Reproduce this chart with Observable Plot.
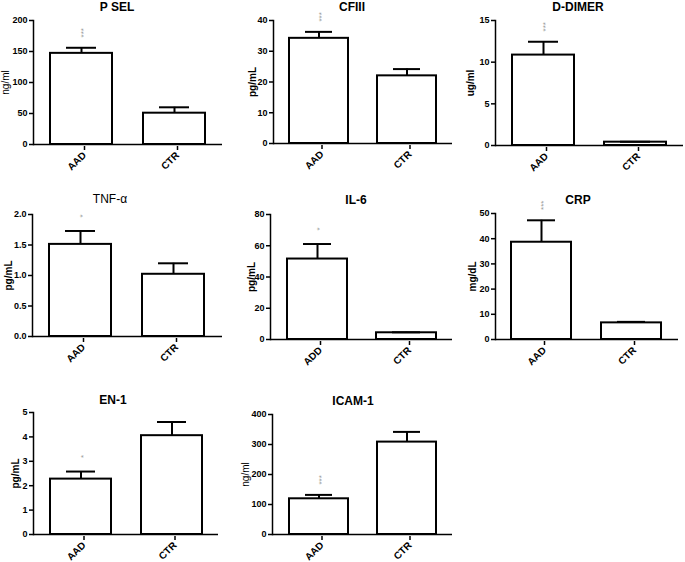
<!DOCTYPE html>
<html><head><meta charset="utf-8">
<script src="https://cdn.jsdelivr.net/npm/d3@7"></script>
<script src="https://cdn.jsdelivr.net/npm/@observablehq/plot@0.6"></script>
<style>
html,body{margin:0;padding:0;background:#fff;}
#root{position:relative;width:685px;height:562px;overflow:hidden;font-family:"Liberation Sans",Arial,sans-serif;background:#fff;}
.ttl{position:absolute;transform:translate(-50%,-50%);font-size:12px;font-weight:bold;white-space:nowrap;color:#000;line-height:1;}
#root svg{position:absolute;}
</style></head><body><div id="root"></div>
<script>
// ---- data ----
const groupsA = ["AAD", "CTR"];
const groupsIL6 = ["ADD", "CTR"];

const pselMean = [147, 50.5];   const pselSem = [9, 9.5];     const pselSig = ["***", ""];
const cfiiiMean = [34.2, 22.0]; const cfiiiSem = [2.1, 2.2];  const cfiiiSig = ["***", ""];
const ddimerMean = [10.85, 0.4];const ddimerSem = [1.6, 0.05];const ddimerSig = ["***", ""];
const tnfMean = [1.51, 1.02];   const tnfSem = [0.22, 0.18];  const tnfSig = ["*", ""];
const il6Mean = [51.5, 4.3];    const il6Sem = [9.6, 0.3];    const il6Sig = ["*", ""];
const crpMean = [38.6, 6.6];    const crpSem = [8.7, 0.4];    const crpSig = ["***", ""];
const en1Mean = [2.27, 4.05];   const en1Sem = [0.31, 0.56];  const en1Sig = ["*", ""];
const icamMean = [119, 308];    const icamSem = [13, 34];     const icamSig = ["***", ""];

const pselTicks = [0, 50, 100, 150, 200];
const cfiiiTicks = [0, 10, 20, 30, 40];
const ddimerTicks = [0, 5, 10, 15];
const tnfTicks = [0, 0.5, 1.0, 1.5, 2.0];
const il6Ticks = [0, 20, 40, 60, 80];
const crpTicks = [0, 10, 20, 30, 40, 50];
const en1Ticks = [0, 1, 2, 3, 4, 5];
const icamTicks = [0, 100, 200, 300, 400];

const titles = ["P SEL", "CFIII", "D-DIMER", "TNF-\u03b1", "IL-6", "CRP", "EN-1", "ICAM-1"];
const units = ["ng/ml", "pg/mL", "ug/ml", "pg/mL", "pg/mL", "mg/dL", "pg/mL", "ng/ml"];

// ---- layout ----
const panels = [
  {t:0, groups:groupsA,   mean:pselMean,   sem:pselSem,   sig:pselSig,   ticks:pselTicks,   fmt:d3.format("d"),   box:[33,20,144,222],     tx:117, ty:7,   tb:true,  ub:false, uo:28},
  {t:1, groups:groupsA,   mean:cfiiiMean,  sem:cfiiiSem,  sig:cfiiiSig,  ticks:cfiiiTicks,  fmt:d3.format("d"),   box:[273,20,143,452],    tx:352, ty:7,   tb:true,  ub:true,  uo:21},
  {t:2, groups:groupsA,   mean:ddimerMean, sem:ddimerSem, sig:ddimerSig, ticks:ddimerTicks, fmt:d3.format("d"),   box:[495,20,145,683],    tx:578, ty:7,   tb:true,  ub:true,  uo:25},
  {t:3, groups:groupsA,   mean:tnfMean,    sem:tnfSem,    sig:tnfSig,    ticks:tnfTicks,    fmt:d3.format(".1f"), box:[32,214,336,222],    tx:110, ty:199, tb:false, ub:true,  uo:24},
  {t:4, groups:groupsIL6, mean:il6Mean,    sem:il6Sem,    sig:il6Sig,    ticks:il6Ticks,    fmt:d3.format("d"),   box:[270,214,339,452],   tx:356, ty:200, tb:true,  ub:true,  uo:19},
  {t:5, groups:groupsA,   mean:crpMean,    sem:crpSem,    sig:crpSig,    ticks:crpTicks,    fmt:d3.format("d"),   box:[495,213,339,678],   tx:578, ty:200, tb:true,  ub:true,  uo:23},
  {t:6, groups:groupsA,   mean:en1Mean,    sem:en1Sem,    sig:en1Sig,    ticks:en1Ticks,    fmt:d3.format("d"),   box:[33,412,534,218],    tx:113, ty:400, tb:true,  ub:true,  uo:18},
  {t:7, groups:groupsA,   mean:icamMean,   sem:icamSem,   sig:icamSig,   ticks:icamTicks,   fmt:d3.format("d"),   box:[272,414,534,452],   tx:353, ty:401, tb:true,  ub:false, uo:27}
];

const root = document.getElementById("root");
const mL = 40, mT = 30, mB = 50, mR = 4;

for (const p of panels) {
  const data = p.groups.map((g, i) => ({group: g, mean: p.mean[i], sem: p.sem[i], sig: p.sig[i]}));
  const [x0, y0, y1, x1] = p.box;
  const W = x1 - x0 + mL + mR, H = y1 - y0 + mT + mB;
  const top = d => d.mean + d.sem;
  const svg = Plot.plot({
    width: W, height: H,
    marginLeft: mL, marginRight: mR, marginTop: mT, marginBottom: mB,
    style: {fontFamily: "'Liberation Sans', Arial, sans-serif", background: "transparent", overflow: "visible", color: "black"},
    x: {domain: p.groups, paddingInner: 0.33, paddingOuter: 0.18, label: null},
    y: {domain: [0, d3.max(p.ticks)], label: null},
    marks: [
      Plot.barY(data, {x: "group", y: "mean", fill: "white", stroke: "black", strokeWidth: 2}),
      Plot.ruleX(data, {x: "group", y1: "mean", y2: top, stroke: "black", strokeWidth: 2}),
      Plot.tickY(data, {x: "group", y: top, insetLeft: 16, insetRight: 16, stroke: "black", strokeWidth: 2}),
      Plot.text(data, {x: "group", y: top, text: "sig", rotate: -90, dy: -15, dx: 2, fill: "#999", fontSize: 8}),
      Plot.ruleY([0], {stroke: "black", strokeWidth: 1.5}),
      Plot.frame({anchor: "left", stroke: "black", strokeWidth: 1.5}),
      Plot.axisY({ticks: p.ticks, tickSize: 4, tickPadding: 2, tickFormat: p.fmt, fontSize: 9, fontWeight: "bold", label: null, strokeWidth: 1.5}),
      Plot.axisX({tickSize: 4, tickRotate: -45, tickPadding: 3, dx: 3, dy: 2, fontSize: 10, fontWeight: "bold", label: null, strokeWidth: 1.5}),
      Plot.text([units[p.t]], {frameAnchor: "left", textAnchor: "middle", lineAnchor: "middle", rotate: -90, dx: -p.uo, fontSize: 10, fontWeight: p.ub ? "bold" : "normal"})
    ]
  });
  svg.style.left = (x0 - mL) + "px";
  svg.style.top = (y0 - mT) + "px";
  root.appendChild(svg);
  const t = document.createElement("div");
  t.className = "ttl";
  t.textContent = titles[p.t];
  t.style.left = p.tx + "px";
  t.style.top = p.ty + "px";
  t.style.fontWeight = p.tb ? "bold" : "normal";
  root.appendChild(t);
}
</script>
</body></html>
